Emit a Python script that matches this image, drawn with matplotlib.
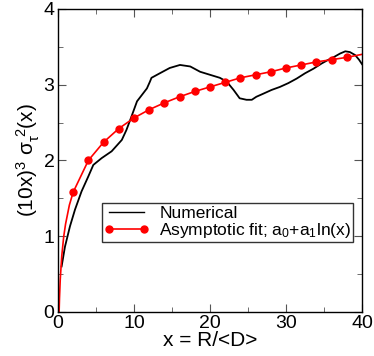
import matplotlib
matplotlib.use("Agg")
import matplotlib.pyplot as plt
from matplotlib.ticker import MultipleLocator

plt.rcParams['font.family'] = ['Liberation Sans', 'DejaVu Sans']
plt.rcParams['mathtext.fontset'] = 'custom'
plt.rcParams['mathtext.rm'] = 'Liberation Sans'
plt.rcParams['mathtext.it'] = 'Liberation Sans'
plt.rcParams['mathtext.sf'] = 'Liberation Sans'

# numerical curve
num_x = [0.48, 0.92, 1.58, 2.24, 3.1, 4.0, 4.65, 5.75, 7.06, 8.4, 9.0, 9.6,
         10.4, 11.7, 12.1, 12.3, 13.4, 14.7, 16.05, 17.4, 18.7, 20.0, 21.3,
         22.2, 23.1, 23.9, 24.8, 25.5, 26.1, 27.0, 28.1, 29.2, 30.3, 31.4,
         32.5, 33.6, 34.7, 35.6, 36.4, 37.1, 37.8, 38.4, 39.1, 39.6, 40.0]
num_y = [0.60, 0.86, 1.13, 1.35, 1.59, 1.79, 1.94, 2.03, 2.12, 2.27, 2.40, 2.56,
         2.78, 2.95, 3.04, 3.09, 3.15, 3.22, 3.26, 3.24, 3.17, 3.13, 3.09,
         3.04, 2.93, 2.82, 2.80, 2.80, 2.84, 2.88, 2.93, 2.97, 3.02, 3.08,
         3.15, 3.21, 3.28, 3.33, 3.37, 3.41, 3.44, 3.43, 3.39, 3.33, 3.27]

# asymptotic fit curve
fit_x = [0.15, 0.2, 0.3, 0.5, 0.75, 1.0, 1.5, 2, 4, 6, 8, 10, 12, 14, 16, 18,
         20, 22, 24, 26, 28, 30, 32, 34, 36, 38, 40]
fit_y = [0.0, 0.18, 0.43, 0.74, 0.99, 1.16, 1.41, 1.58, 2.00, 2.24, 2.42,
         2.56, 2.67, 2.76, 2.84, 2.91, 2.97, 3.03, 3.09, 3.13, 3.17, 3.22,
         3.26, 3.30, 3.33, 3.36, 3.40]
marker_idx = list(range(7, 26))

fig = plt.figure(figsize=(3.74, 3.56), dpi=100)
ax = fig.add_axes([0.155, 0.124, 0.813, 0.851])

ax.plot(num_x, num_y, color='black', lw=1.3, label='Numerical')
ax.plot(fit_x, fit_y, color='red', lw=1.2, marker='o', ms=5,
        markevery=marker_idx, label=r'Asymptotic fit; a$_0$+a$_1$ln(x)')

ax.set_xlim(0, 40)
ax.set_ylim(0, 4)
ax.xaxis.set_major_locator(MultipleLocator(10))
ax.xaxis.set_minor_locator(MultipleLocator(5))
ax.yaxis.set_major_locator(MultipleLocator(1))
ax.yaxis.set_minor_locator(MultipleLocator(0.5))
ax.tick_params(which='both', direction='in', top=True, right=True,
               color='#555555', labelsize=14, pad=2.5)
ax.tick_params(which='major', length=6)
ax.tick_params(which='minor', length=3.5)
for s in ax.spines.values():
    s.set_linewidth(1.0)

ax.set_xlabel('x = R/<D>', fontsize=15, labelpad=-1)
ax.set_ylabel(r'(10x)$^3$ $\sigma_\tau^{\ 2}$(x)', fontsize=15, labelpad=1)

leg = ax.legend(loc='upper left', bbox_to_anchor=(0.144, 0.358), fontsize=12.5,
                frameon=True, fancybox=False, edgecolor='black', numpoints=2,
                borderpad=0.12, handlelength=2.6, labelspacing=0.0,
                borderaxespad=0, handletextpad=0.6)
leg.get_frame().set_linewidth(1.0)
leg.get_lines()[0].set_linewidth(1.0)

fig.savefig('out.png', dpi=100)
